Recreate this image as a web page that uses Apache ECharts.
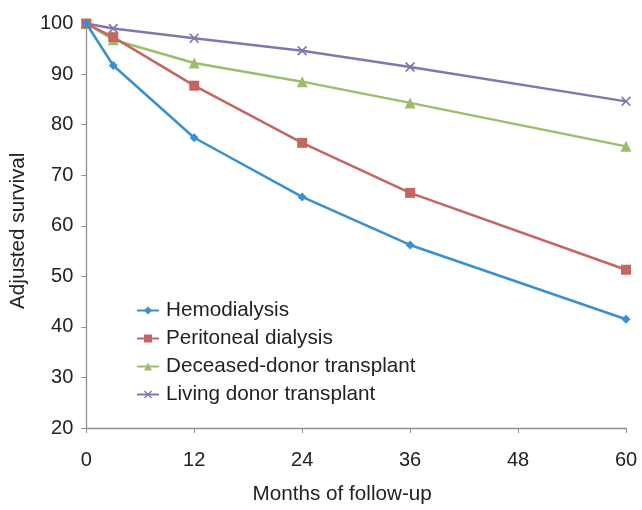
<!DOCTYPE html>
<html>
<head>
<meta charset="utf-8">
<script src="https://cdn.jsdelivr.net/npm/echarts@6/dist/echarts.min.js"></script>
<style>html,body{margin:0;padding:0;background:#fff;}#c{width:642px;height:510px;}</style>
</head>
<body>
<div id="c"></div>
<script>
const months = [0, 3, 12, 24, 36, 60];
const hemodialysis = [100, 91.7, 77.4, 65.7, 56.2, 41.5];
const peritoneal = [100, 97.3, 87.7, 76.4, 66.5, 51.3];
const deceasedDonor = [100, 96.8, 92.2, 88.5, 84.3, 75.7];
const livingDonor = [100, 99.0, 97.1, 94.6, 91.4, 84.6];
const seriesNames = ['Hemodialysis', 'Peritoneal dialysis', 'Deceased-donor transplant', 'Living donor transplant'];
const xTicks = [0, 12, 24, 36, 48, 60];
const yTicks = [20, 30, 40, 50, 60, 70, 80, 90, 100];

const FONT = 'Liberation Sans, Arial, sans-serif';
const xMark = 'path://M0,1.2L1.2,0L5,3.8L8.8,0L10,1.2L6.2,5L10,8.8L8.8,10L5,6.2L1.2,10L0,8.8L3.8,5Z';
const pair = arr => months.map((m, i) => [m, arr[i]]);

const styles = [
  {color: '#3a8fd0', symbol: 'diamond', size: 9},
  {color: '#c4665f', symbol: 'rect', size: 10},
  {color: '#9dbd6b', symbol: 'triangle', size: 11},
  {color: '#8574b0', symbol: xMark, size: 10}
];
const datas = [hemodialysis, peritoneal, deceasedDonor, livingDonor];

const chart = echarts.init(document.getElementById('c'));
chart.setOption({
  animation: false,
  textStyle: {fontFamily: FONT},
  grid: {left: 86, right: 16, top: 23.5, bottom: 76},
  legend: {
    orient: 'vertical', left: 131, top: 295,
    itemWidth: 22, itemHeight: 10, itemGap: 7,
    textStyle: {fontSize: 20.7, color: '#222', fontFamily: FONT, padding: [0, 0, 0, 2]},
    data: seriesNames
  },
  xAxis: {
    type: 'value', min: xTicks[0], max: xTicks[xTicks.length - 1], interval: 12,
    name: 'Months of follow-up', nameLocation: 'middle', nameGap: 56,
    nameTextStyle: {fontSize: 20.7, color: '#222', fontFamily: FONT, padding: [0, 28, 0, 0]},
    axisLine: {lineStyle: {color: '#8a9098', width: 1.3}},
    axisTick: {show: true, length: 5, lineStyle: {color: '#8a9098'}},
    axisLabel: {fontSize: 20, color: '#222', margin: 22, fontFamily: FONT},
    splitLine: {show: false}
  },
  yAxis: {
    type: 'value', min: yTicks[0], max: yTicks[yTicks.length - 1], interval: 10,
    name: 'Adjusted survival', nameLocation: 'middle', nameGap: 55,
    nameTextStyle: {fontSize: 20.7, color: '#222', fontFamily: FONT, padding: [0, 10, 0, 0]},
    axisLine: {show: true, lineStyle: {color: '#8a9098', width: 1.3}},
    axisTick: {show: true, length: 5, lineStyle: {color: '#8a9098'}},
    axisLabel: {fontSize: 20, color: '#222', margin: 13, fontFamily: FONT},
    splitLine: {show: false}
  },
  series: seriesNames.map((name, i) => ({
    name: name, type: 'line', data: pair(datas[i]),
    symbol: styles[i].symbol, symbolSize: styles[i].size,
    showAllSymbol: true,
    lineStyle: {color: styles[i].color, width: 2.5},
    itemStyle: {color: styles[i].color, borderWidth: 0},
    z: 2 + (3 - i)
  }))
});
</script>
</body>
</html>
